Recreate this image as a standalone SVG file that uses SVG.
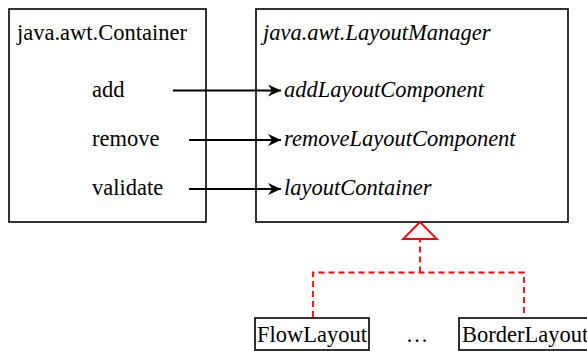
<svg xmlns="http://www.w3.org/2000/svg" width="587" height="351" viewBox="0 0 587 351">
<style>
.box{fill:#fff;stroke:#000;stroke-width:1.6}
.t{font-size:22.5px;fill:#000}
.i{font-style:italic}
.arr{stroke:#000;stroke-width:1.8;fill:none;marker-end:url(#ah)}
.gen{stroke:#f00;stroke-width:1.8;fill:none;stroke-dasharray:6 4}
</style>
<defs>
<marker id="ah" markerWidth="14" markerHeight="12" refX="13" refY="6" orient="auto" markerUnits="userSpaceOnUse">
<path d="M0,0 L13,6 L0,12 L4,6 Z" fill="#000"/>
</marker>
</defs>
<g font-family="Liberation Serif, Times New Roman, Tinos, DejaVu Serif, serif">
<g id="container">
<rect class="box" x="9" y="9" width="197" height="213"/>
<text class="t" x="17" y="40">java.awt.Container</text>
<text class="t" x="92" y="97">add</text>
<text class="t" x="92" y="146">remove</text>
<text class="t" x="92" y="195">validate</text>
</g>
<g id="layoutmanager">
<rect class="box" x="256" y="9" width="312" height="213"/>
<text class="t i" x="263" y="40">java.awt.LayoutManager</text>
<text class="t i" x="284" y="97">addLayoutComponent</text>
<text class="t i" x="284" y="146">removeLayoutComponent</text>
<text class="t i" x="284" y="195">layoutContainer</text>
</g>
<g id="flowlayout">
<rect class="box" x="255" y="318" width="114" height="32"/>
<text class="t" x="257" y="342">FlowLayout</text>
</g>
<g id="ellipsis">
<text class="t" x="417" y="342" text-anchor="middle">…</text>
</g>
<g id="borderlayout">
<rect class="box" x="459" y="318" width="140" height="32"/>
<text class="t" x="462" y="342">BorderLayout</text>
</g>
</g>
<g id="connectors">
<line class="arr" x1="173" y1="90.5" x2="281" y2="90.5"/>
<line class="arr" x1="189" y1="140" x2="281" y2="140"/>
<line class="arr" x1="189" y1="189" x2="281" y2="189"/>
<path class="gen" d="M313,317 V272.5 H524 V317"/>
<path class="gen" d="M420,272.5 V239"/>
<path d="M420,222 L403,239 L437,239 Z" fill="#fff" stroke="#f00" stroke-width="1.8"/>
</g>
</svg>
